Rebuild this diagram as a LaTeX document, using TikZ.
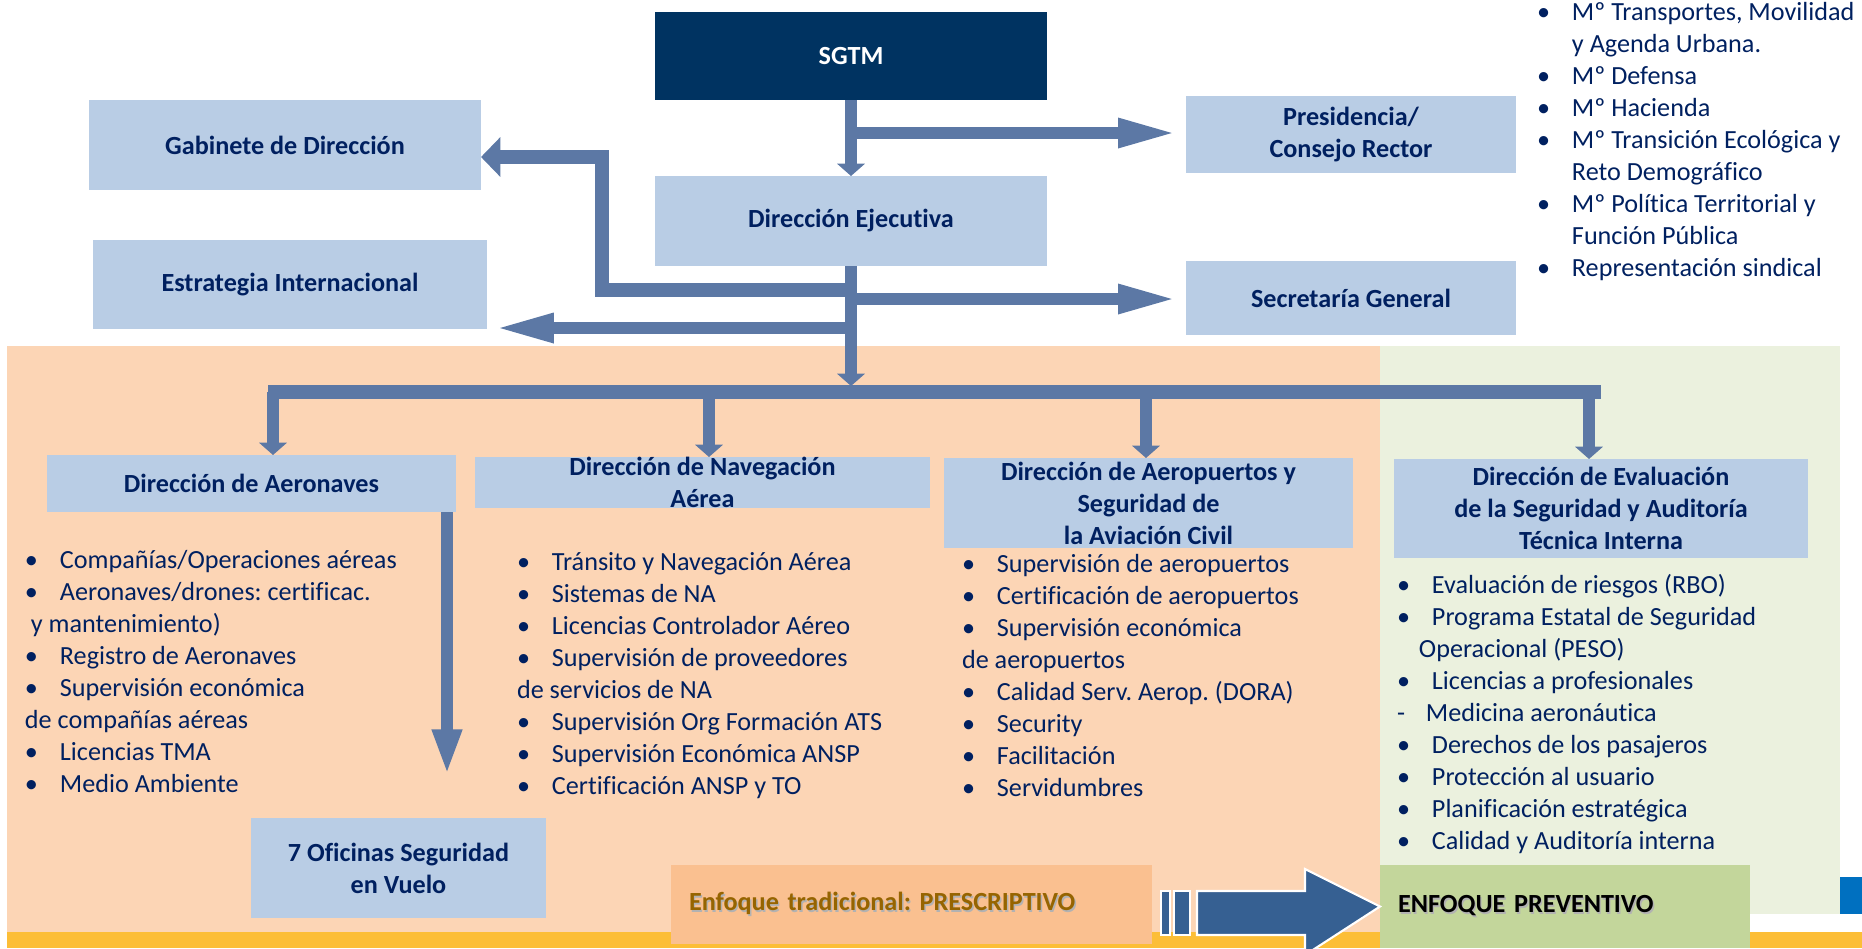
\documentclass[tikz,border=0pt]{standalone}
\usepackage{fontspec}
\setmainfont{Carlito}[Ligatures=NoCommon]
\usetikzlibrary{arrows.meta}

\definecolor{navy}{RGB}{0,51,97}
\definecolor{inkblue}{RGB}{0,32,96}
\definecolor{unitblue}{RGB}{185,205,229}
\definecolor{peach}{RGB}{252,213,181}
\definecolor{sage}{RGB}{235,241,222}
\definecolor{amber}{RGB}{252,190,55}
\definecolor{apricot}{RGB}{250,192,144}
\definecolor{olive}{RGB}{195,214,155}
\definecolor{linkblue}{RGB}{92,120,165}
\definecolor{arrowblue}{RGB}{54,96,146}
\definecolor{edgeblue}{RGB}{0,112,192}
\definecolor{gold}{RGB}{150,100,0}

\newlength\pxu
\setlength\pxu{0.02cm}
\newcommand{\bul}{\makebox[19.9pt][l]{\textbullet}}
\newcommand{\shtext}[1]{\makebox[0pt][l]{\hspace{0.8pt}\raisebox{-0.8pt}{\color{black!30}#1}}#1}
\frenchspacing

\begin{document}
\begin{tikzpicture}[x=0.02cm, y=-0.02cm]
\tikzset{ inner sep=0pt, outer sep=0pt,
  dims/.style 2 args={minimum width=#1\pxu, minimum height=#2\pxu},
  unit/.style={fill=unitblue, text=inkblue, align=center,
    font=\fontsize{14.9}{18.2}\selectfont\bfseries},
  txt/.style={anchor=base west, align=left, text=inkblue,
    font=\fontsize{14.9}{18.2}\selectfont},
  link/.style={draw=linkblue, line width=6.3pt},
  bus/.style={draw=linkblue, line width=8pt},
  tipv/.style={-{Triangle[width=15.5pt,length=7pt]}},
  tiph/.style={-{Triangle[width=15.5pt,length=33pt]}},
  tipdown/.style={-{Triangle[width=15.5pt,length=26pt]}},
}
\useasboundingbox (0,0) rectangle (1862,948);

% backgrounds
\fill[peach] (7,346) rectangle (1380,932);
\fill[sage] (1380,346) rectangle (1840,914);
\fill[amber] (7,932) rectangle (1862,948);
\fill[edgeblue] (1840,877) rectangle (1862,914);

% units
\node [unit, fill=navy, text=white, dims={392}{88}] (sgtm) at (851,56) {SGTM};
\node [unit, dims={392}{90}] (dej)  at (851,221)   {Dirección Ejecutiva};
\node [unit, dims={392}{90}] (gab)  at (285,145)   {Gabinete de Dirección};
\node [unit, dims={394}{89}] (estr) at (290,284.5) {Estrategia Internacional};
\node [unit, dims={330}{77}] (pres) at (1351,134.5) {Presidencia/\\Consejo Rector};
\node [unit, dims={330}{74}] (secr) at (1351,298)  {Secretaría General};

\node [unit, dims={409}{57}] (aero)  at (251.5,483.5) {Dirección de Aeronaves};
\node [unit, dims={455}{51}] (nav)   at (702.5,482.5) {Dirección de Navegación\\Aérea};
\node [unit, dims={409}{90}] (aerop) at (1148.5,503)  {Dirección de Aeropuertos y\\Seguridad de\\la Aviación Civil};
\node [unit, dims={414}{99}] (eval)  at (1601,508.5)  {Dirección de Evaluación\\de la Seguridad y Auditoría\\Técnica Interna};
\node [unit, dims={295}{100}] (ofic) at (398.5,868)   {7 Oficinas Seguridad\\en Vuelo};

% joints
\coordinate (jP) at (851,133);
\coordinate (jG) at (851,290);
\coordinate (jS) at (851,299);
\coordinate (jE) at (851,328);
\coordinate (jB) at (851,386);
\coordinate (bend) at (602,157);
\coordinate (busL) at (268,392);
\coordinate (busR) at (1601,392);
\coordinate (oficTip) at (447,775);

% connectors
\draw [link, tipv] (sgtm.south) -- (dej.north);
\draw [link, tiph, shorten >=5.7pt] (jP) -- (pres.west |- jP);
\draw [link, tipv] (dej.south) -- (jB);
\draw [link, tiph, shorten >=5.7pt] (jS) -- (secr.west |- jS);
\draw [link, line width=8pt, -{Triangle[width=22pt,length=11pt]}] (jG) -| (bend) -- (gab.east |- bend);
\draw [link, tiph, shorten >=5pt] (jE) -- (estr.east |- jE);

\draw [bus] (busL) -- (busR);
\foreach \x/\n in {273/aero, 709/nav, 1146/aerop, 1589/eval}
  \draw [link, tipv] (\x,392) -- (\x,392 |- \n.north);

\draw [link, line width=7pt, tipdown] (aero.south -| oficTip) -- (oficTip);

% lists (anchored at the baseline of their last line)
\node [txt] (minis) at (1537,276) {\bul Mº Transportes, Movilidad\\
  \hspace*{19.9pt}y Agenda Urbana.\\
  \bul Mº Defensa\\
  \bul Mº Hacienda\\
  \bul Mº Transición Ecológica y\\
  \hspace*{19.9pt}Reto Demográfico\\
  \bul Mº Política Territorial y\\
  \hspace*{19.9pt}Función Pública\\
  \bul Representación sindical};

\node [txt] (aeroList) at (25,792) {\bul Compañías/Operaciones aéreas\\
  \bul Aeronaves/drones: certificac.\\
  \hspace*{3.4pt}y mantenimiento)\\
  \bul Registro de Aeronaves\\
  \bul Supervisión económica\\
  de compañías aéreas\\
  \bul Licencias TMA\\
  \bul Medio Ambiente};

\node [txt] (navList) at (517,794) {\bul Tránsito y Navegación Aérea\\
  \bul Sistemas de NA\\
  \bul Licencias Controlador Aéreo\\
  \bul Supervisión de proveedores\\
  de servicios de NA\\
  \bul Supervisión Org Formación ATS\\
  \bul Supervisión Económica ANSP\\
  \bul Certificación ANSP y TO};

\node [txt] (aeropList) at (962,796) {\bul Supervisión de aeropuertos\\
  \bul Certificación de aeropuertos\\
  \bul Supervisión económica\\
  de aeropuertos\\
  \bul Calidad Serv. Aerop. (DORA)\\
  \bul Security\\
  \bul Facilitación\\
  \bul Servidumbres};

\node [txt] (evalList) at (1397,849) {\bul Evaluación de riesgos (RBO)\\
  \bul Programa Estatal de Seguridad\\
  \hspace*{12.5pt}Operacional (PESO)\\
  \bul Licencias a profesionales\\
  \makebox[16.5pt][l]{-}Medicina aeronáutica\\
  \bul Derechos de los pasajeros\\
  \bul Protección al usuario\\
  \bul Planificación estratégica\\
  \bul Calidad y Auditoría interna};

% approaches
\node [fill=apricot, text=gold, font=\fontsize{14.9}{18.2}\selectfont\bfseries, align=left,
  text width=445\pxu, inner xsep=18\pxu, minimum height=79\pxu] (enfT) at (911.5,904.5)
  {\shtext{Enfoque tradicional: PRESCRIPTIVO}};
\node [fill=olive, text=black, font=\fontsize{14.9}{18.2}\selectfont\bfseries, align=left,
  text width=334\pxu, inner xsep=18\pxu, minimum height=83\pxu] (enfP) at (1565,906.5)
  {\shtext{ENFOQUE PREVENTIVO}};

\draw [fill=arrowblue, draw=white, line width=1.2pt] (1161,891) rectangle (1170,935);
\draw [fill=arrowblue, draw=white, line width=1.2pt] (1174,891) rectangle (1190,935);
\draw [fill=arrowblue, draw=white, line width=1.2pt]
  (1197,891) -- (1305,891) -- (1305,869) -- (enfP.west) -- (1305,955) -- (1305,935) -- (1197,935) -- cycle;

\end{tikzpicture}
\end{document}
